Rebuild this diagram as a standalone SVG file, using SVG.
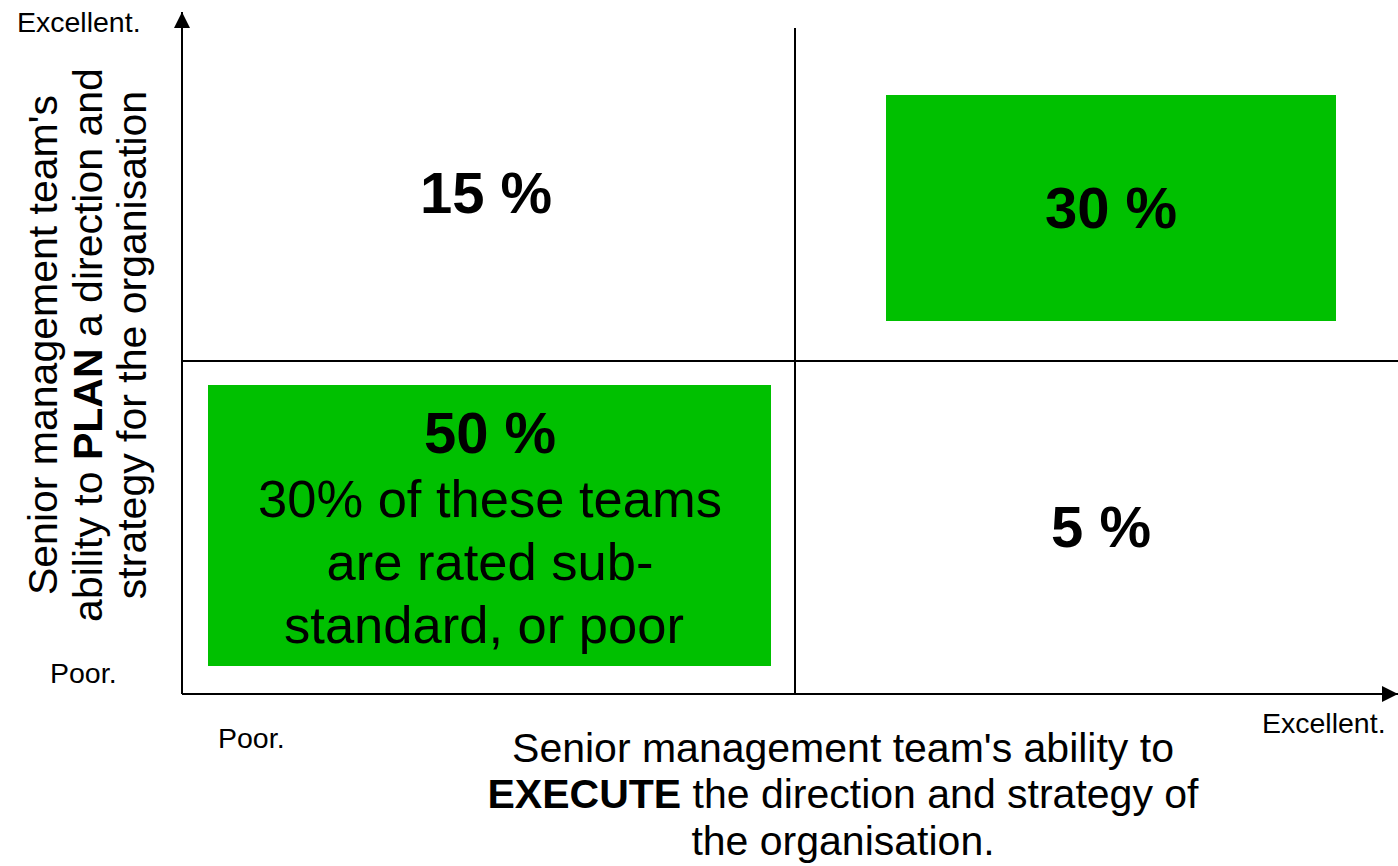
<svg xmlns="http://www.w3.org/2000/svg" width="1398" height="866" viewBox="0 0 1398 866">
<style>
text{font-family:"Liberation Sans",Arial,sans-serif;fill:#000}
.ax{stroke:#000;stroke-width:2;fill:none}
.small{font-size:28.5px}
.big{font-size:58px;font-weight:bold}
.mid{font-size:52.5px}
.lab{font-size:41px}
.box{fill:#00C000}
</style>
<defs>
<marker id="arrb" viewBox="0 0 16 16" refX="16" refY="8" markerWidth="16" markerHeight="16" markerUnits="userSpaceOnUse" orient="auto">
<path d="M0,0 L16,8 L0,16 Z" fill="#000"/>
</marker>
</defs>
<rect width="1398" height="866" fill="#fff"/>
<g id="connectors">
<line class="ax" x1="182" y1="694" x2="182" y2="12" marker-end="url(#arrb)"/>
<line class="ax" x1="182" y1="694" x2="1398" y2="694" marker-end="url(#arrb)"/>
<line class="ax" x1="795" y1="28" x2="795" y2="694"/>
<line class="ax" x1="182" y1="361" x2="1398" y2="361"/>
</g>
<g id="q-top-left">
<text class="big" x="486" y="213" text-anchor="middle">15 %</text>
</g>
<g id="q-top-right">
<rect class="box" x="886" y="95" width="450" height="226"/>
<text class="big" x="1111" y="228" text-anchor="middle">30 %</text>
</g>
<g id="q-bottom-left">
<rect class="box" x="208" y="385" width="563" height="281"/>
<text class="big" x="490" y="453" text-anchor="middle">50 %</text>
<text class="mid" x="490" y="517" text-anchor="middle">30% of these teams</text>
<text class="mid" x="490" y="580" text-anchor="middle">are rated sub-</text>
<text class="mid" x="484" y="643" text-anchor="middle">standard, or poor</text>
</g>
<g id="q-bottom-right">
<text class="big" x="1101" y="547" text-anchor="middle">5 %</text>
</g>
<g id="axis-labels">
<text class="small" x="17" y="32">Excellent.</text>
<text class="small" x="50" y="683">Poor.</text>
<text class="small" x="218" y="748">Poor.</text>
<text class="small" x="1262" y="733">Excellent.</text>
<g transform="translate(0,345) rotate(-90)">
<text class="lab" x="0" y="57" text-anchor="middle">Senior management team's</text>
<text class="lab" x="0" y="102" text-anchor="middle">ability to <tspan font-weight="bold">PLAN</tspan> a direction and</text>
<text class="lab" x="0" y="146" text-anchor="middle">strategy for the organisation</text>
</g>
<text class="lab" x="843" y="762" text-anchor="middle">Senior management team's ability to</text>
<text class="lab" x="843" y="808" text-anchor="middle"><tspan font-weight="bold">EXECUTE</tspan> the direction and strategy of</text>
<text class="lab" x="843" y="855" text-anchor="middle">the organisation.</text>
</g>
</svg>
